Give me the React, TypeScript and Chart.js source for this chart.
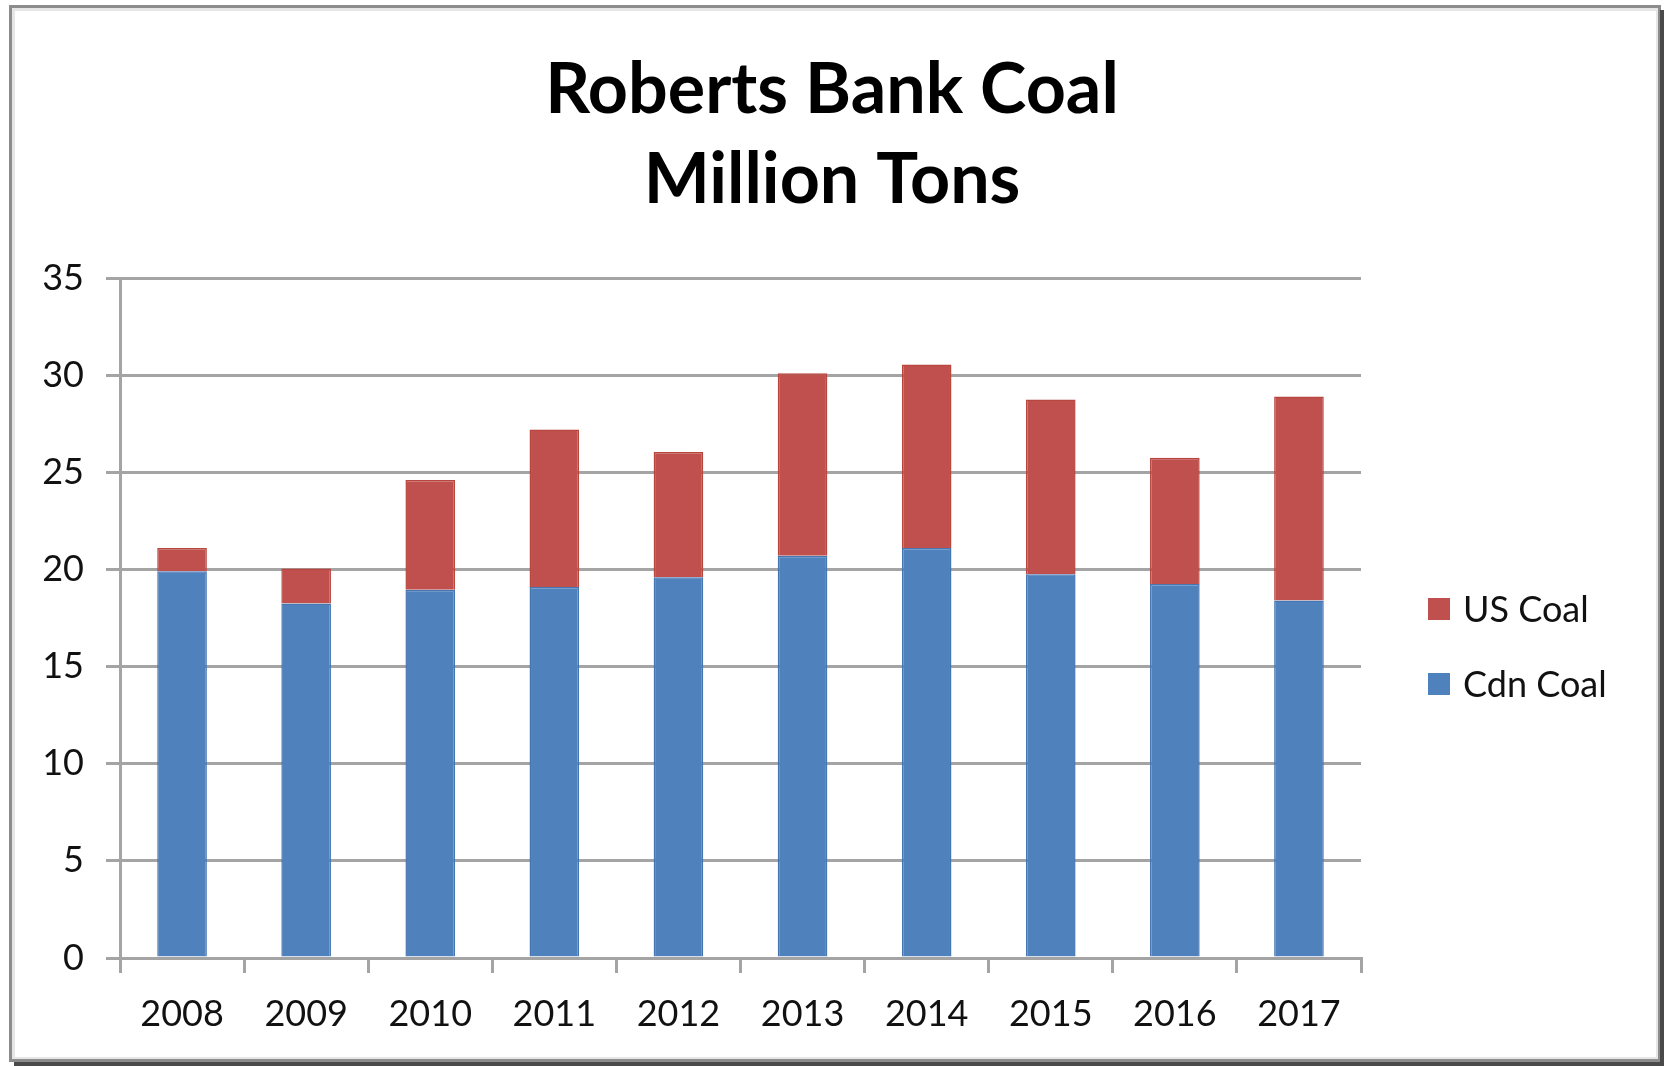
import React, { useEffect, useRef } from "react";
import { Chart, registerables } from "chart.js";

Chart.register(...registerables);

const TITLE_LINES = ["Roberts Bank Coal", "Million Tons"];
const YEARS = ["2008", "2009", "2010", "2011", "2012", "2013", "2014", "2015", "2016", "2017"];
const CDN_COAL = [19.9, 18.25, 18.95, 19.1, 19.6, 20.7, 21.1, 19.75, 19.25, 18.4];
const US_COAL = [1.2, 1.8, 5.65, 8.1, 6.45, 9.4, 9.45, 9.0, 6.5, 10.5];
const SERIES_NAMES = ["Cdn Coal", "US Coal"];
const SERIES_COLORS = ["#4F81BD", "#C0504D"];
const SERIES_BORDERS = ["#4676b2", "#b8463f"];
const Y_MIN = 0;
const Y_MAX = 35;
const Y_STEP = 5;

const W = 1664;
const H = 1066;
const FONT = "Lato, 'Open Sans', sans-serif";
const GRID = "#a4a4a4";

const framePlugin = {
  id: "frame",
  beforeDraw(chart: any) {
    const ctx = chart.ctx;
    ctx.save();
    ctx.fillStyle = "#ffffff";
    ctx.fillRect(0, 0, W, H);
    ctx.strokeStyle = "#e6e6e6";
    ctx.lineWidth = 3;
    ctx.strokeRect(13.5, 9.5, 1644, 1049);
    ctx.strokeStyle = "#8c8c8c";
    ctx.lineWidth = 3;
    ctx.strokeRect(10.5, 6.5, 1649, 1054);
    ctx.fillStyle = "#4a4a4a";
    ctx.fillRect(1660, 10, 4, 1056);
    ctx.fillRect(14, 1062, 1650, 4);
    ctx.restore();
  },
  afterDraw(chart: any) {
    const ctx = chart.ctx;
    ctx.save();
    ctx.fillStyle = "#000000";
    ctx.font = `bold 70px ${FONT}`;
    ctx.textAlign = "center";
    ctx.textBaseline = "middle";
    TITLE_LINES.forEach((t, i) => ctx.fillText(t, 832, 90 + i * 90));
    const ds = chart.data.datasets;
    const order = [1, 0];
    ctx.font = `36px ${FONT}`;
    ctx.textAlign = "left";
    order.forEach((di, i) => {
      const cy = 609 + i * 75;
      ctx.fillStyle = ds[di].backgroundColor;
      ctx.fillRect(1428, cy - 11, 22, 22);
      ctx.fillStyle = "#111111";
      ctx.fillText(ds[di].label, 1463, cy + 1);
    });
    ctx.restore();
  },
};

export default function App() {
  const ref = useRef<HTMLCanvasElement>(null);
  useEffect(() => {
    if (!ref.current) return;
    const chart = new Chart(ref.current, {
      type: "bar",
      data: {
        labels: YEARS,
        datasets: [
          {
            label: SERIES_NAMES[0],
            data: CDN_COAL,
            backgroundColor: SERIES_COLORS[0],
            borderColor: SERIES_BORDERS[0],
            borderWidth: 1.5,
            barPercentage: 0.4,
            categoryPercentage: 1,
          },
          {
            label: SERIES_NAMES[1],
            data: US_COAL,
            backgroundColor: SERIES_COLORS[1],
            borderColor: SERIES_BORDERS[1],
            borderWidth: 1.5,
            barPercentage: 0.4,
            categoryPercentage: 1,
          },
        ],
      },
      options: {
        responsive: false,
        animation: false,
        devicePixelRatio: 1,
        layout: { padding: { top: 278, right: 303, bottom: 0, left: 0 } },
        plugins: {
          legend: { display: false },
          title: { display: false },
          tooltip: { enabled: false },
        },
        scales: {
          x: {
            stacked: true,
            grid: {
              offset: true,
              drawOnChartArea: false,
              drawTicks: true,
              tickLength: 15,
              color: GRID,
              lineWidth: 3,
            },
            border: { color: GRID, width: 3 },
            ticks: {
              padding: 20,
              color: "#111111",
              font: { family: FONT, size: 36 },
              maxRotation: 0,
            },
            afterFit(scale: any) {
              scale.height = 108;
            },
          },
          y: {
            stacked: true,
            min: Y_MIN,
            max: Y_MAX,
            grid: {
              color: GRID,
              lineWidth: 3,
              drawTicks: true,
              tickLength: 14,
            },
            border: { color: GRID, width: 3 },
            ticks: {
              stepSize: Y_STEP,
              padding: 22,
              color: "#111111",
              font: { family: FONT, size: 36 },
            },
            afterFit(scale: any) {
              scale.width = 120;
            },
          },
        },
      },
      plugins: [framePlugin],
    });
    return () => chart.destroy();
  }, []);
  return (
    <div style={{ position: "fixed", left: 0, top: 0, width: W, height: H, background: "#fff" }}>
      <canvas ref={ref} width={W} height={H} style={{ width: W, height: H, display: "block" }} />
    </div>
  );
}
